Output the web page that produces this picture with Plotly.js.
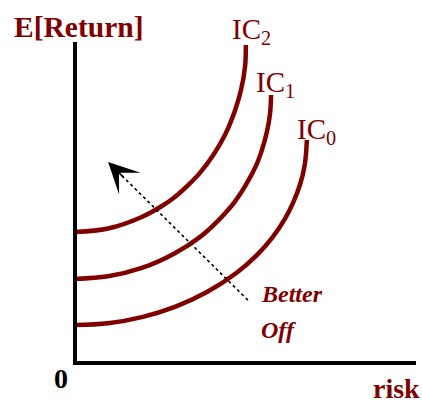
<!DOCTYPE html>
<html>
<head>
<meta charset="utf-8">
<script src="https://cdn.plot.ly/plotly-3.0.1.min.js"></script>
<style>
  html, body { margin: 0; padding: 0; background: #fff; }
  #chart { width: 422px; height: 403px; }
</style>
</head>
<body>
<div id="chart"></div>
<script>
// ── Indifference curves (risk, E[Return]) ────────────────────────────────────
const ic0Risk = [0, 0.97, 1.96, 2.93, 3.87, 4.75, 5.34, 5.78, 6.16, 6.39, 6.60, 6.74, 6.80];
const ic0Ret  = [1.18, 1.24, 1.43, 1.75, 2.21, 2.82, 3.37, 3.90, 4.50, 4.98, 5.56, 6.19, 6.95];

const ic1Risk = [0, 0.97, 1.96, 2.93, 3.67, 4.19, 4.69, 5.04, 5.34, 5.48, 5.63, 5.72, 5.75];
const ic1Ret  = [2.62, 2.70, 2.96, 3.42, 3.93, 4.43, 5.03, 5.60, 6.22, 6.63, 7.21, 7.77, 8.35];

const ic2Risk = [0, 0.97, 1.96, 2.55, 2.93, 3.31, 3.67, 4.05, 4.40, 4.69, 4.87, 4.99, 5.01];
const ic2Ret  = [4.08, 4.19, 4.55, 4.89, 5.17, 5.53, 5.93, 6.47, 7.11, 7.86, 8.51, 9.27, 9.91];

// "Better off" direction: tail -> tip
const arrowRisk = [5.07, 0.97];
const arrowRet  = [1.96, 6.26];

const icLabels = ['IC<sub>0</sub>', 'IC<sub>1</sub>', 'IC<sub>2</sub>'];
const axisLabels = { y: 'E[Return]', x: 'risk', origin: '0' };
const noteLines = ['Better', 'Off'];

// ── Style ────────────────────────────────────────────────────────────────────
const MAROON = '#800000';
const SERIF = 'Liberation Serif, Times New Roman, serif';

const curve = (x, y, name) => ({
  x, y, name,
  mode: 'lines',
  line: { color: MAROON, width: 4.5, shape: 'spline', smoothing: 1 },
  hoverinfo: 'skip'
});

const traces = [
  curve(ic0Risk, ic0Ret, 'IC0'),
  curve(ic1Risk, ic1Ret, 'IC1'),
  curve(ic2Risk, ic2Ret, 'IC2'),
  {
    x: arrowRisk, y: arrowRet,
    mode: 'lines',
    line: { color: '#000', width: 1.6, dash: 'dot' },
    hoverinfo: 'skip'
  }
];

// short stub near the tip so only the head shows over the dotted line
const stub = 0.12;
const stubX = arrowRisk[1] + (arrowRisk[0] - arrowRisk[1]) * stub;
const stubY = arrowRet[1] + (arrowRet[0] - arrowRet[1]) * stub;

const txt = (text, x, y, opts) => Object.assign({
  text, x, y, xref: 'paper', yref: 'paper',
  showarrow: false, xanchor: 'center', yanchor: 'middle',
  font: { family: SERIF, size: 29, color: MAROON }
}, opts || {});

const bold = (size, color) => ({ family: SERIF, size, color, weight: 'bold' });
const note = { family: SERIF, size: 24, color: MAROON, weight: 'bold', style: 'italic' };

const annotations = [
  {
    x: arrowRisk[1], y: arrowRet[1], ax: stubX, ay: stubY,
    xref: 'x', yref: 'y', axref: 'x', ayref: 'y',
    showarrow: true, arrowhead: 3, arrowsize: 3.4, arrowwidth: 1.5,
    arrowcolor: '#000', standoff: 0, text: ''
  },
  txt(axisLabels.y, 0.009, 1.047, { font: bold(29.5, MAROON) }),
  txt(axisLabels.x, 0.944, -0.078, { font: bold(28, MAROON) }),
  txt(axisLabels.origin, -0.040, -0.047, { font: bold(28, '#000') }),
  txt(icLabels[2], 0.517, 1.034),
  txt(icLabels[1], 0.587, 0.869),
  txt(icLabels[0], 0.707, 0.723),
  txt(noteLines[0], 0.541, 0.215, { xanchor: 'left', font: note }),
  txt(noteLines[1], 0.541, 0.103, { xanchor: 'left', font: note })
];

// ── Axes drawn as thick black lines meeting at the origin ────────────────────
const shapes = [
  { type: 'line', xref: 'paper', yref: 'paper', x0: 0, x1: 0, y0: -0.006, y1: 1,
    line: { color: '#000', width: 4 } },
  { type: 'line', xref: 'paper', yref: 'paper', x0: -0.006, x1: 1, y0: 0, y1: 0,
    line: { color: '#000', width: 4 } }
];

const hidden = {
  range: [0, 10], showgrid: false, zeroline: false, showline: false,
  showticklabels: false, ticks: '', fixedrange: true
};

const layout = {
  width: 422, height: 403,
  margin: { l: 75, r: 6, t: 42, b: 40, pad: 0 },
  paper_bgcolor: '#fff', plot_bgcolor: '#fff',
  showlegend: false,
  xaxis: Object.assign({}, hidden),
  yaxis: Object.assign({}, hidden),
  shapes, annotations
};

Plotly.newPlot('chart', traces, layout, { displayModeBar: false, staticPlot: true });
</script>
</body>
</html>
